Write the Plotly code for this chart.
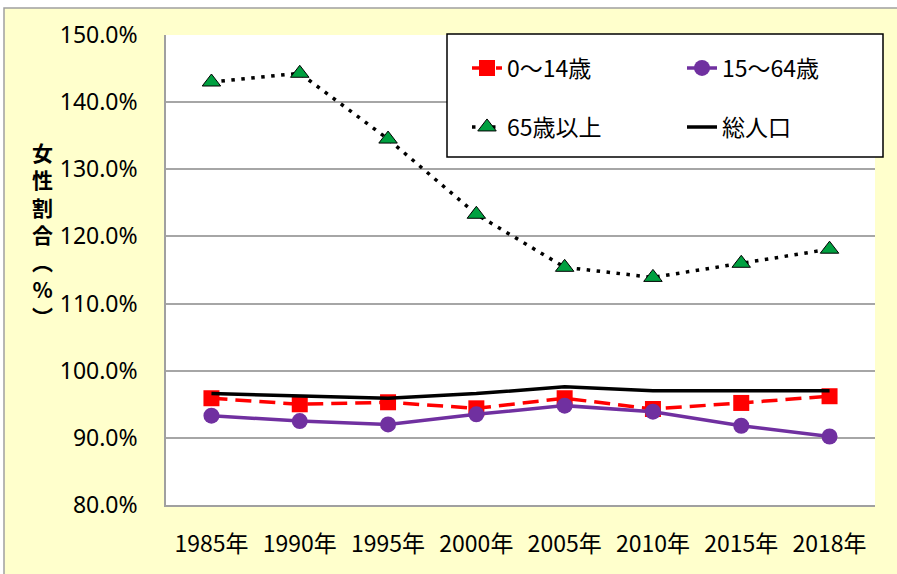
import plotly.graph_objects as go

years = ["1985年", "1990年", "1995年", "2000年", "2005年", "2010年", "2015年", "2018年"]
age_0_14 = [95.9, 95.0, 95.3, 94.4, 95.9, 94.3, 95.2, 96.2]
age_15_64 = [93.3, 92.5, 92.0, 93.5, 94.8, 93.9, 91.8, 90.2]
age_65_plus = [143.0, 144.3, 134.5, 123.3, 115.4, 113.9, 116.0, 118.1]
total = [96.6, 96.2, 95.9, 96.6, 97.6, 97.0, 97.0, 97.0]
y_ticks = [80, 90, 100, 110, 120, 130, 140, 150]

W, H = 897, 574
L, R, T, B = 166, 22, 35, 69
pw, ph = W - L - R, H - T - B

def px(x):
    return (x - L) / pw

def py(y):
    return (H - B - y) / ph

fig = go.Figure()
fig.add_trace(go.Scatter(
    x=years, y=age_0_14, name="0〜14歳", mode="lines+markers",
    line=dict(color="#FF0000", width=3.5, dash="16px,8px"),
    marker=dict(symbol="square", size=16, color="#FF0000"),
    legend="legend"))
fig.add_trace(go.Scatter(
    x=years, y=age_15_64, name="15〜64歳", mode="lines+markers",
    line=dict(color="#7030A0", width=3.5),
    marker=dict(symbol="circle", size=16, color="#7030A0"),
    legend="legend2"))
fig.add_trace(go.Scatter(
    x=years, y=age_65_plus, name="65歳以上", mode="lines+markers",
    line=dict(color="#000000", width=3.5, dash="3.5px,6.5px"),
    marker=dict(symbol="triangle-up", size=16, color="#00A040",
                line=dict(color="#000000", width=1)),
    legend="legend3"))
fig.add_trace(go.Scatter(
    x=years, y=total, name="総人口", mode="lines",
    line=dict(color="#000000", width=3.5),
    legend="legend4"))

# outer chart area (yellow with grey border)
fig.add_shape(type="rect", xref="paper", yref="paper",
              x0=px(4), x1=px(905), y0=py(585), y1=py(8),
              fillcolor="#FFFFCC", line=dict(color="#A0A0A0", width=1.5),
              layer="below")
# plot area
fig.add_shape(type="rect", xref="paper", yref="paper",
              x0=0, x1=1, y0=0, y1=1,
              fillcolor="#FFFFFF", line=dict(width=0), layer="below")
# legend box
fig.add_shape(type="rect", xref="paper", yref="paper",
              x0=px(447), x1=px(883), y0=py(157), y1=py(34),
              fillcolor="#FFFFFF", line=dict(color="#000000", width=1.5),
              layer="above")

fig.add_annotation(
    text="<b>女<br>性<br>割<br>合<br>︵<br>%<br>︶</b>",
    xref="paper", yref="paper", x=px(42), y=py(234),
    xanchor="center", yanchor="middle",
    showarrow=False, align="center",
    font=dict(family="Noto Sans CJK JP", size=21, color="#000000"))

legend_font = dict(family="Noto Sans CJK JP", size=23, color="#000000")
common_leg = dict(orientation="h", xanchor="left", yanchor="middle",
                  bgcolor="rgba(0,0,0,0)", borderwidth=0,
                  font=legend_font, itemclick=False)

col1, col2 = px(467), px(682)
row1, row2 = py(68), py(127)

fig.update_layout(
    width=W, height=H,
    margin=dict(l=L, r=R, t=T, b=B),
    paper_bgcolor="#FFFFFF",
    plot_bgcolor="rgba(0,0,0,0)",
    showlegend=True,
    legend=dict(x=col1, y=row1, **common_leg),
    legend2=dict(x=col2, y=row1, **common_leg),
    legend3=dict(x=col1, y=row2, **common_leg),
    legend4=dict(x=col2, y=row2, **common_leg),
    xaxis=dict(
        type="category", showgrid=False,
        showline=True, linecolor="#A0A0A0", linewidth=1.5,
        ticks="", tickfont=dict(family="Noto Sans CJK JP", size=23, color="#000000"),
        ticklabelstandoff=18,
    ),
    yaxis=dict(
        range=[80, 150], tickvals=y_ticks,
        ticktext=[f"{v:.1f}%" for v in y_ticks],
        showgrid=True, gridcolor="#A6A6A6", gridwidth=1.5,
        showline=True, linecolor="#A0A0A0", linewidth=1.5,
        zeroline=False, ticks="",
        tickfont=dict(family="Noto Sans", size=23, color="#000000"),
        ticklabelstandoff=22,
    ),
)

fig.write_html("out.html", config={"displayModeBar": False},
               post_script="document.body.style.margin='0';")
